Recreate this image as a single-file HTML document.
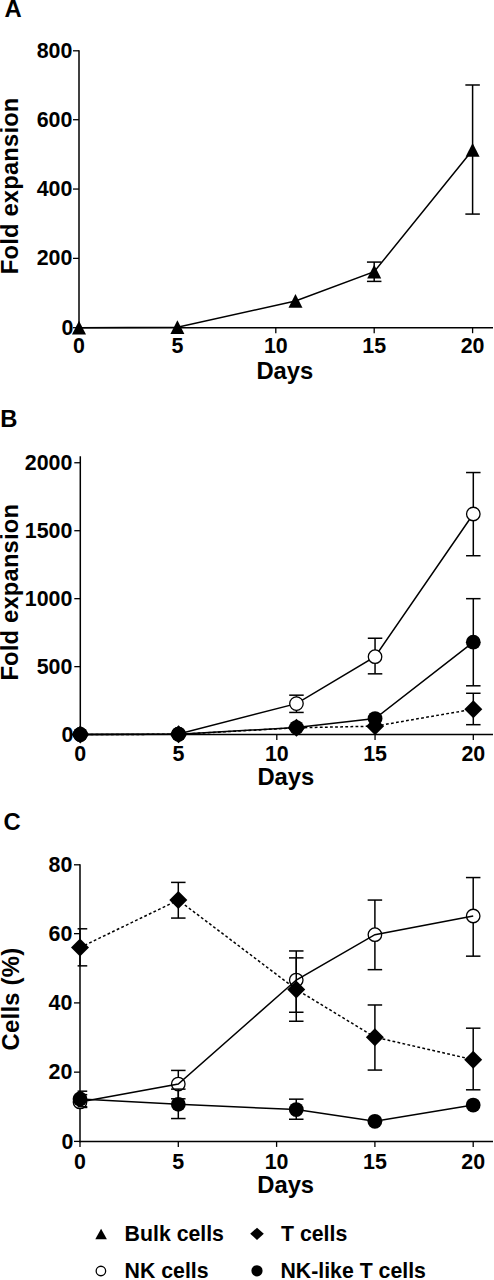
<!DOCTYPE html>
<html lang="en">
<head>
<meta charset="utf-8">
<title>Figure: Fold expansion and cell percentages</title>
<style>
html,body{margin:0;padding:0;background:#fff;}
body{width:494px;height:1280px;overflow:hidden;}
svg{display:block;}
svg text{font-family:"Liberation Sans", sans-serif;font-weight:700;fill:#000;}
</style>
</head>
<body>
<svg width="494" height="1280" viewBox="0 0 494 1280">
<rect x="0" y="0" width="494" height="1280" fill="#fff"/>
<line x1="79.00" y1="50.15" x2="79.00" y2="328.45" stroke="#000" stroke-width="1.5" stroke-linecap="butt"/>
<line x1="78.25" y1="327.70" x2="493.00" y2="327.70" stroke="#000" stroke-width="1.5" stroke-linecap="butt"/>
<line x1="73.00" y1="327.70" x2="79.00" y2="327.70" stroke="#000" stroke-width="1.3" stroke-linecap="butt"/>
<text transform="translate(73.40 334.80) scale(1.0 1.03)" font-size="21.4" text-anchor="end">0</text>
<line x1="73.00" y1="258.38" x2="79.00" y2="258.38" stroke="#000" stroke-width="1.3" stroke-linecap="butt"/>
<text transform="translate(72.40 265.48) scale(1.0 1.03)" font-size="21.4" text-anchor="end">200</text>
<line x1="73.00" y1="189.05" x2="79.00" y2="189.05" stroke="#000" stroke-width="1.3" stroke-linecap="butt"/>
<text transform="translate(72.40 196.15) scale(1.0 1.03)" font-size="21.4" text-anchor="end">400</text>
<line x1="73.00" y1="119.72" x2="79.00" y2="119.72" stroke="#000" stroke-width="1.3" stroke-linecap="butt"/>
<text transform="translate(72.40 126.82) scale(1.0 1.03)" font-size="21.4" text-anchor="end">600</text>
<line x1="73.00" y1="50.80" x2="79.00" y2="50.80" stroke="#000" stroke-width="1.3" stroke-linecap="butt"/>
<text transform="translate(72.40 57.50) scale(1.0 1.03)" font-size="21.4" text-anchor="end">800</text>
<line x1="79.00" y1="327.70" x2="79.00" y2="333.20" stroke="#000" stroke-width="1.3" stroke-linecap="butt"/>
<text transform="translate(79.00 353.00) scale(1.0 1.03)" font-size="21.4" text-anchor="middle">0</text>
<line x1="177.40" y1="327.70" x2="177.40" y2="333.20" stroke="#000" stroke-width="1.3" stroke-linecap="butt"/>
<text transform="translate(177.40 353.00) scale(1.0 1.03)" font-size="21.4" text-anchor="middle">5</text>
<line x1="275.80" y1="327.70" x2="275.80" y2="333.20" stroke="#000" stroke-width="1.3" stroke-linecap="butt"/>
<text transform="translate(275.80 353.00) scale(1.0 1.03)" font-size="21.4" text-anchor="middle">10</text>
<line x1="374.20" y1="327.70" x2="374.20" y2="333.20" stroke="#000" stroke-width="1.3" stroke-linecap="butt"/>
<text transform="translate(374.20 353.00) scale(1.0 1.03)" font-size="21.4" text-anchor="middle">15</text>
<line x1="472.60" y1="327.70" x2="472.60" y2="333.20" stroke="#000" stroke-width="1.3" stroke-linecap="butt"/>
<text transform="translate(472.60 353.00) scale(1.0 1.03)" font-size="21.4" text-anchor="middle">20</text>
<text transform="translate(284.88 379.40) scale(1.0 0.975)" font-size="23.8" text-anchor="middle">Days</text>
<text transform="translate(18.20 274.20) rotate(-90)" font-size="23.8" text-anchor="start" letter-spacing="0.16">Fold expansion</text>
<text transform="translate(4.50 17.20)" font-size="23.8" text-anchor="start">A</text>
<line x1="374.20" y1="281.39" x2="374.20" y2="262.08" stroke="#000" stroke-width="1.5" stroke-linecap="butt"/>
<line x1="366.95" y1="281.39" x2="381.45" y2="281.39" stroke="#000" stroke-width="1.5" stroke-linecap="butt"/>
<line x1="366.95" y1="262.08" x2="381.45" y2="262.08" stroke="#000" stroke-width="1.5" stroke-linecap="butt"/>
<line x1="472.60" y1="214.08" x2="472.60" y2="84.99" stroke="#000" stroke-width="1.5" stroke-linecap="butt"/>
<line x1="465.35" y1="214.08" x2="479.85" y2="214.08" stroke="#000" stroke-width="1.5" stroke-linecap="butt"/>
<line x1="465.35" y1="84.99" x2="479.85" y2="84.99" stroke="#000" stroke-width="1.5" stroke-linecap="butt"/>
<polyline points="79.00,327.70 177.40,327.18 295.48,301.01 374.20,271.72 472.60,149.95" fill="none" stroke="#000" stroke-width="1.5"/>
<polygon points="79.00,320.70 86.00,334.50 72.00,334.50" fill="#000"/>
<polygon points="177.40,320.18 184.40,333.98 170.40,333.98" fill="#000"/>
<polygon points="295.48,294.01 302.48,307.81 288.48,307.81" fill="#000"/>
<polygon points="374.20,264.72 381.20,278.52 367.20,278.52" fill="#000"/>
<polygon points="472.60,142.95 479.60,156.75 465.60,156.75" fill="#000"/>
<line x1="80.30" y1="456.30" x2="80.30" y2="735.35" stroke="#000" stroke-width="1.5" stroke-linecap="butt"/>
<line x1="79.55" y1="734.60" x2="493.00" y2="734.60" stroke="#000" stroke-width="1.5" stroke-linecap="butt"/>
<line x1="74.30" y1="734.60" x2="80.30" y2="734.60" stroke="#000" stroke-width="1.3" stroke-linecap="butt"/>
<text transform="translate(73.40 741.70) scale(1.0 1.03)" font-size="21.4" text-anchor="end">0</text>
<line x1="74.30" y1="666.64" x2="80.30" y2="666.64" stroke="#000" stroke-width="1.3" stroke-linecap="butt"/>
<text transform="translate(72.40 673.74) scale(1.0 1.03)" font-size="21.4" text-anchor="end">500</text>
<line x1="74.30" y1="598.67" x2="80.30" y2="598.67" stroke="#000" stroke-width="1.3" stroke-linecap="butt"/>
<text transform="translate(72.40 605.77) scale(1.0 1.03)" font-size="21.4" text-anchor="end">1000</text>
<line x1="74.30" y1="530.71" x2="80.30" y2="530.71" stroke="#000" stroke-width="1.3" stroke-linecap="butt"/>
<text transform="translate(72.40 537.81) scale(1.0 1.03)" font-size="21.4" text-anchor="end">1500</text>
<line x1="74.30" y1="462.75" x2="80.30" y2="462.75" stroke="#000" stroke-width="1.3" stroke-linecap="butt"/>
<text transform="translate(72.40 469.85) scale(1.0 1.03)" font-size="21.4" text-anchor="end">2000</text>
<line x1="80.30" y1="734.60" x2="80.30" y2="740.10" stroke="#000" stroke-width="1.3" stroke-linecap="butt"/>
<text transform="translate(80.30 760.60) scale(1.0 1.03)" font-size="21.4" text-anchor="middle">0</text>
<line x1="178.55" y1="734.60" x2="178.55" y2="740.10" stroke="#000" stroke-width="1.3" stroke-linecap="butt"/>
<text transform="translate(178.55 760.60) scale(1.0 1.03)" font-size="21.4" text-anchor="middle">5</text>
<line x1="276.80" y1="734.60" x2="276.80" y2="740.10" stroke="#000" stroke-width="1.3" stroke-linecap="butt"/>
<text transform="translate(276.80 760.60) scale(1.0 1.03)" font-size="21.4" text-anchor="middle">10</text>
<line x1="375.05" y1="734.60" x2="375.05" y2="740.10" stroke="#000" stroke-width="1.3" stroke-linecap="butt"/>
<text transform="translate(375.05 760.60) scale(1.0 1.03)" font-size="21.4" text-anchor="middle">15</text>
<line x1="473.30" y1="734.60" x2="473.30" y2="740.10" stroke="#000" stroke-width="1.3" stroke-linecap="butt"/>
<text transform="translate(473.30 760.60) scale(1.0 1.03)" font-size="21.4" text-anchor="middle">20</text>
<text transform="translate(285.85 785.40) scale(1.0 0.975)" font-size="23.8" text-anchor="middle">Days</text>
<text transform="translate(18.20 680.60) rotate(-90)" font-size="23.8" text-anchor="start" letter-spacing="0.16">Fold expansion</text>
<text transform="translate(0.30 426.60)" font-size="23.8" text-anchor="start">B</text>
<line x1="473.30" y1="724.68" x2="473.30" y2="693.28" stroke="#000" stroke-width="1.5" stroke-linecap="butt"/>
<line x1="466.05" y1="724.68" x2="480.55" y2="724.68" stroke="#000" stroke-width="1.5" stroke-linecap="butt"/>
<line x1="466.05" y1="693.28" x2="480.55" y2="693.28" stroke="#000" stroke-width="1.5" stroke-linecap="butt"/>
<line x1="473.30" y1="685.80" x2="473.30" y2="598.67" stroke="#000" stroke-width="1.5" stroke-linecap="butt"/>
<line x1="466.05" y1="685.80" x2="480.55" y2="685.80" stroke="#000" stroke-width="1.5" stroke-linecap="butt"/>
<line x1="466.05" y1="598.67" x2="480.55" y2="598.67" stroke="#000" stroke-width="1.5" stroke-linecap="butt"/>
<line x1="296.45" y1="712.44" x2="296.45" y2="695.18" stroke="#000" stroke-width="1.5" stroke-linecap="butt"/>
<line x1="289.20" y1="712.44" x2="303.70" y2="712.44" stroke="#000" stroke-width="1.5" stroke-linecap="butt"/>
<line x1="289.20" y1="695.18" x2="303.70" y2="695.18" stroke="#000" stroke-width="1.5" stroke-linecap="butt"/>
<line x1="375.05" y1="673.84" x2="375.05" y2="638.23" stroke="#000" stroke-width="1.5" stroke-linecap="butt"/>
<line x1="367.80" y1="673.84" x2="382.30" y2="673.84" stroke="#000" stroke-width="1.5" stroke-linecap="butt"/>
<line x1="367.80" y1="638.23" x2="382.30" y2="638.23" stroke="#000" stroke-width="1.5" stroke-linecap="butt"/>
<line x1="473.30" y1="555.72" x2="473.30" y2="472.54" stroke="#000" stroke-width="1.5" stroke-linecap="butt"/>
<line x1="466.05" y1="555.72" x2="480.55" y2="555.72" stroke="#000" stroke-width="1.5" stroke-linecap="butt"/>
<line x1="466.05" y1="472.54" x2="480.55" y2="472.54" stroke="#000" stroke-width="1.5" stroke-linecap="butt"/>
<polyline points="80.30,734.46 178.55,734.33 296.45,727.80 375.05,726.17 473.30,709.18" fill="none" stroke="#000" stroke-width="1.5" stroke-dasharray="2.8 2.3"/>
<polyline points="80.30,734.46 178.55,734.19 296.45,727.53 375.05,718.56 473.30,642.17" fill="none" stroke="#000" stroke-width="1.5"/>
<polyline points="80.30,734.46 178.55,734.06 296.45,703.61 375.05,656.71 473.30,513.99" fill="none" stroke="#000" stroke-width="1.5"/>
<polygon points="80.30,725.46 89.30,734.46 80.30,743.46 71.30,734.46" fill="#000"/>
<polygon points="178.55,725.33 187.55,734.33 178.55,743.33 169.55,734.33" fill="#000"/>
<polygon points="296.45,718.80 305.45,727.80 296.45,736.80 287.45,727.80" fill="#000"/>
<polygon points="375.05,717.17 384.05,726.17 375.05,735.17 366.05,726.17" fill="#000"/>
<polygon points="473.30,700.18 482.30,709.18 473.30,718.18 464.30,709.18" fill="#000"/>
<circle cx="80.30" cy="734.46" r="7.4" fill="#000"/>
<circle cx="178.55" cy="734.19" r="7.4" fill="#000"/>
<circle cx="296.45" cy="727.53" r="7.4" fill="#000"/>
<circle cx="375.05" cy="718.56" r="7.4" fill="#000"/>
<circle cx="473.30" cy="642.17" r="7.4" fill="#000"/>
<circle cx="80.30" cy="734.46" r="7.4" fill="#000"/>
<circle cx="178.55" cy="734.06" r="7.4" fill="#000"/>
<circle cx="296.45" cy="703.61" r="6.75" fill="#fff" stroke="#000" stroke-width="1.3"/>
<circle cx="375.05" cy="656.71" r="6.75" fill="#fff" stroke="#000" stroke-width="1.3"/>
<circle cx="473.30" cy="513.99" r="6.75" fill="#fff" stroke="#000" stroke-width="1.3"/>
<line x1="80.00" y1="864.15" x2="80.00" y2="1142.15" stroke="#000" stroke-width="1.5" stroke-linecap="butt"/>
<line x1="79.25" y1="1141.40" x2="493.00" y2="1141.40" stroke="#000" stroke-width="1.5" stroke-linecap="butt"/>
<line x1="74.00" y1="1141.40" x2="80.00" y2="1141.40" stroke="#000" stroke-width="1.3" stroke-linecap="butt"/>
<text transform="translate(73.40 1148.50) scale(1.0 1.03)" font-size="21.4" text-anchor="end">0</text>
<line x1="74.00" y1="1072.15" x2="80.00" y2="1072.15" stroke="#000" stroke-width="1.3" stroke-linecap="butt"/>
<text transform="translate(72.40 1079.25) scale(1.0 1.03)" font-size="21.4" text-anchor="end">20</text>
<line x1="74.00" y1="1002.90" x2="80.00" y2="1002.90" stroke="#000" stroke-width="1.3" stroke-linecap="butt"/>
<text transform="translate(72.40 1010.00) scale(1.0 1.03)" font-size="21.4" text-anchor="end">40</text>
<line x1="74.00" y1="933.65" x2="80.00" y2="933.65" stroke="#000" stroke-width="1.3" stroke-linecap="butt"/>
<text transform="translate(72.40 940.75) scale(1.0 1.03)" font-size="21.4" text-anchor="end">60</text>
<line x1="74.00" y1="864.80" x2="80.00" y2="864.80" stroke="#000" stroke-width="1.3" stroke-linecap="butt"/>
<text transform="translate(72.40 871.50) scale(1.0 1.03)" font-size="21.4" text-anchor="end">80</text>
<line x1="80.00" y1="1141.40" x2="80.00" y2="1146.90" stroke="#000" stroke-width="1.3" stroke-linecap="butt"/>
<text transform="translate(80.00 1168.70) scale(1.0 1.03)" font-size="21.4" text-anchor="middle">0</text>
<line x1="178.30" y1="1141.40" x2="178.30" y2="1146.90" stroke="#000" stroke-width="1.3" stroke-linecap="butt"/>
<text transform="translate(178.30 1168.70) scale(1.0 1.03)" font-size="21.4" text-anchor="middle">5</text>
<line x1="276.60" y1="1141.40" x2="276.60" y2="1146.90" stroke="#000" stroke-width="1.3" stroke-linecap="butt"/>
<text transform="translate(276.60 1168.70) scale(1.0 1.03)" font-size="21.4" text-anchor="middle">10</text>
<line x1="374.90" y1="1141.40" x2="374.90" y2="1146.90" stroke="#000" stroke-width="1.3" stroke-linecap="butt"/>
<text transform="translate(374.90 1168.70) scale(1.0 1.03)" font-size="21.4" text-anchor="middle">15</text>
<line x1="473.20" y1="1141.40" x2="473.20" y2="1146.90" stroke="#000" stroke-width="1.3" stroke-linecap="butt"/>
<text transform="translate(473.20 1168.70) scale(1.0 1.03)" font-size="21.4" text-anchor="middle">20</text>
<text transform="translate(285.66 1192.80) scale(1.0 0.975)" font-size="23.8" text-anchor="middle">Days</text>
<text transform="translate(18.60 1050.40) rotate(-90)" font-size="23.8" text-anchor="start" letter-spacing="0.25">Cells (%)</text>
<text transform="translate(3.40 830.40)" font-size="23.8" text-anchor="start">C</text>
<line x1="80.00" y1="1107.47" x2="80.00" y2="1094.66" stroke="#000" stroke-width="1.5" stroke-linecap="butt"/>
<line x1="77.60" y1="1107.47" x2="87.25" y2="1107.47" stroke="#000" stroke-width="1.5" stroke-linecap="butt"/>
<line x1="77.60" y1="1094.66" x2="87.25" y2="1094.66" stroke="#000" stroke-width="1.5" stroke-linecap="butt"/>
<line x1="178.30" y1="1098.81" x2="178.30" y2="1070.42" stroke="#000" stroke-width="1.5" stroke-linecap="butt"/>
<line x1="171.05" y1="1098.81" x2="185.55" y2="1098.81" stroke="#000" stroke-width="1.5" stroke-linecap="butt"/>
<line x1="171.05" y1="1070.42" x2="185.55" y2="1070.42" stroke="#000" stroke-width="1.5" stroke-linecap="butt"/>
<line x1="296.26" y1="1012.25" x2="296.26" y2="950.96" stroke="#000" stroke-width="1.5" stroke-linecap="butt"/>
<line x1="289.01" y1="1012.25" x2="303.51" y2="1012.25" stroke="#000" stroke-width="1.5" stroke-linecap="butt"/>
<line x1="289.01" y1="950.96" x2="303.51" y2="950.96" stroke="#000" stroke-width="1.5" stroke-linecap="butt"/>
<line x1="374.90" y1="969.66" x2="374.90" y2="900.06" stroke="#000" stroke-width="1.5" stroke-linecap="butt"/>
<line x1="367.65" y1="969.66" x2="382.15" y2="969.66" stroke="#000" stroke-width="1.5" stroke-linecap="butt"/>
<line x1="367.65" y1="900.06" x2="382.15" y2="900.06" stroke="#000" stroke-width="1.5" stroke-linecap="butt"/>
<line x1="473.20" y1="956.16" x2="473.20" y2="877.56" stroke="#000" stroke-width="1.5" stroke-linecap="butt"/>
<line x1="465.95" y1="956.16" x2="480.45" y2="956.16" stroke="#000" stroke-width="1.5" stroke-linecap="butt"/>
<line x1="465.95" y1="877.56" x2="480.45" y2="877.56" stroke="#000" stroke-width="1.5" stroke-linecap="butt"/>
<circle cx="80.00" cy="1101.93" r="6.75" fill="#fff" stroke="#000" stroke-width="1.3"/>
<circle cx="178.30" cy="1084.10" r="6.75" fill="#fff" stroke="#000" stroke-width="1.3"/>
<circle cx="296.26" cy="980.05" r="6.75" fill="#fff" stroke="#000" stroke-width="1.3"/>
<circle cx="374.90" cy="934.69" r="6.75" fill="#fff" stroke="#000" stroke-width="1.3"/>
<circle cx="473.20" cy="915.99" r="6.75" fill="#fff" stroke="#000" stroke-width="1.3"/>
<polyline points="80.00,1101.93 178.30,1084.10 296.26,980.05 374.90,934.69 473.20,915.99" fill="none" stroke="#000" stroke-width="1.5"/>
<line x1="80.00" y1="965.85" x2="80.00" y2="928.80" stroke="#000" stroke-width="1.5" stroke-linecap="butt"/>
<line x1="77.60" y1="965.85" x2="87.25" y2="965.85" stroke="#000" stroke-width="1.5" stroke-linecap="butt"/>
<line x1="77.60" y1="928.80" x2="87.25" y2="928.80" stroke="#000" stroke-width="1.5" stroke-linecap="butt"/>
<line x1="178.30" y1="918.07" x2="178.30" y2="882.40" stroke="#000" stroke-width="1.5" stroke-linecap="butt"/>
<line x1="171.05" y1="918.07" x2="185.55" y2="918.07" stroke="#000" stroke-width="1.5" stroke-linecap="butt"/>
<line x1="171.05" y1="882.40" x2="185.55" y2="882.40" stroke="#000" stroke-width="1.5" stroke-linecap="butt"/>
<line x1="296.26" y1="1021.25" x2="296.26" y2="957.89" stroke="#000" stroke-width="1.5" stroke-linecap="butt"/>
<line x1="289.01" y1="1021.25" x2="303.51" y2="1021.25" stroke="#000" stroke-width="1.5" stroke-linecap="butt"/>
<line x1="289.01" y1="957.89" x2="303.51" y2="957.89" stroke="#000" stroke-width="1.5" stroke-linecap="butt"/>
<line x1="374.90" y1="1070.07" x2="374.90" y2="1004.98" stroke="#000" stroke-width="1.5" stroke-linecap="butt"/>
<line x1="367.65" y1="1070.07" x2="382.15" y2="1070.07" stroke="#000" stroke-width="1.5" stroke-linecap="butt"/>
<line x1="367.65" y1="1004.98" x2="382.15" y2="1004.98" stroke="#000" stroke-width="1.5" stroke-linecap="butt"/>
<line x1="473.20" y1="1089.81" x2="473.20" y2="1028.18" stroke="#000" stroke-width="1.5" stroke-linecap="butt"/>
<line x1="465.95" y1="1089.81" x2="480.45" y2="1089.81" stroke="#000" stroke-width="1.5" stroke-linecap="butt"/>
<line x1="465.95" y1="1028.18" x2="480.45" y2="1028.18" stroke="#000" stroke-width="1.5" stroke-linecap="butt"/>
<polyline points="80.00,947.50 178.30,900.06 296.26,989.40 374.90,1037.18 473.20,1059.68" fill="none" stroke="#000" stroke-width="1.5" stroke-dasharray="2.8 2.3"/>
<polygon points="80.00,938.50 89.00,947.50 80.00,956.50 71.00,947.50" fill="#000"/>
<polygon points="178.30,891.06 187.30,900.06 178.30,909.06 169.30,900.06" fill="#000"/>
<polygon points="296.26,980.40 305.26,989.40 296.26,998.40 287.26,989.40" fill="#000"/>
<polygon points="374.90,1028.18 383.90,1037.18 374.90,1046.18 365.90,1037.18" fill="#000"/>
<polygon points="473.20,1050.68 482.20,1059.68 473.20,1068.68 464.20,1059.68" fill="#000"/>
<line x1="80.00" y1="1106.78" x2="80.00" y2="1091.19" stroke="#000" stroke-width="1.5" stroke-linecap="butt"/>
<line x1="77.60" y1="1106.78" x2="87.25" y2="1106.78" stroke="#000" stroke-width="1.5" stroke-linecap="butt"/>
<line x1="77.60" y1="1091.19" x2="87.25" y2="1091.19" stroke="#000" stroke-width="1.5" stroke-linecap="butt"/>
<line x1="178.30" y1="1118.55" x2="178.30" y2="1089.12" stroke="#000" stroke-width="1.5" stroke-linecap="butt"/>
<line x1="171.05" y1="1118.55" x2="185.55" y2="1118.55" stroke="#000" stroke-width="1.5" stroke-linecap="butt"/>
<line x1="171.05" y1="1089.12" x2="185.55" y2="1089.12" stroke="#000" stroke-width="1.5" stroke-linecap="butt"/>
<line x1="296.26" y1="1119.24" x2="296.26" y2="1099.16" stroke="#000" stroke-width="1.5" stroke-linecap="butt"/>
<line x1="289.01" y1="1119.24" x2="303.51" y2="1119.24" stroke="#000" stroke-width="1.5" stroke-linecap="butt"/>
<line x1="289.01" y1="1099.16" x2="303.51" y2="1099.16" stroke="#000" stroke-width="1.5" stroke-linecap="butt"/>
<polyline points="80.00,1098.98 178.30,1104.35 296.26,1109.55 374.90,1121.32 473.20,1105.04" fill="none" stroke="#000" stroke-width="1.5"/>
<circle cx="80.00" cy="1098.98" r="7.4" fill="#000"/>
<circle cx="178.30" cy="1104.35" r="7.4" fill="#000"/>
<circle cx="296.26" cy="1109.55" r="7.4" fill="#000"/>
<circle cx="374.90" cy="1121.32" r="7.4" fill="#000"/>
<circle cx="473.20" cy="1105.04" r="7.4" fill="#000"/>
<polygon points="101.10,1228.75 106.90,1239.35 95.30,1239.35" fill="#000"/>
<text transform="translate(124.60 1241.00) scale(1.0 1.035)" font-size="21.3" text-anchor="start">Bulk cells</text>
<polygon points="257.00,1227.70 263.80,1233.80 257.00,1239.90 250.20,1233.80" fill="#000"/>
<text transform="translate(281.00 1241.00) scale(1.0 1.035)" font-size="21.3" text-anchor="start">T cells</text>
<circle cx="100.90" cy="1271.00" r="4.75" fill="#fff" stroke="#000" stroke-width="1.3"/>
<text transform="translate(124.60 1278.20) scale(1.0 1.035)" font-size="21.3" text-anchor="start">NK cells</text>
<circle cx="257.00" cy="1270.80" r="5.6" fill="#000"/>
<text transform="translate(280.40 1278.20) scale(1.0 1.035)" font-size="21.3" text-anchor="start">NK-like T cells</text>
</svg>
</body>
</html>
